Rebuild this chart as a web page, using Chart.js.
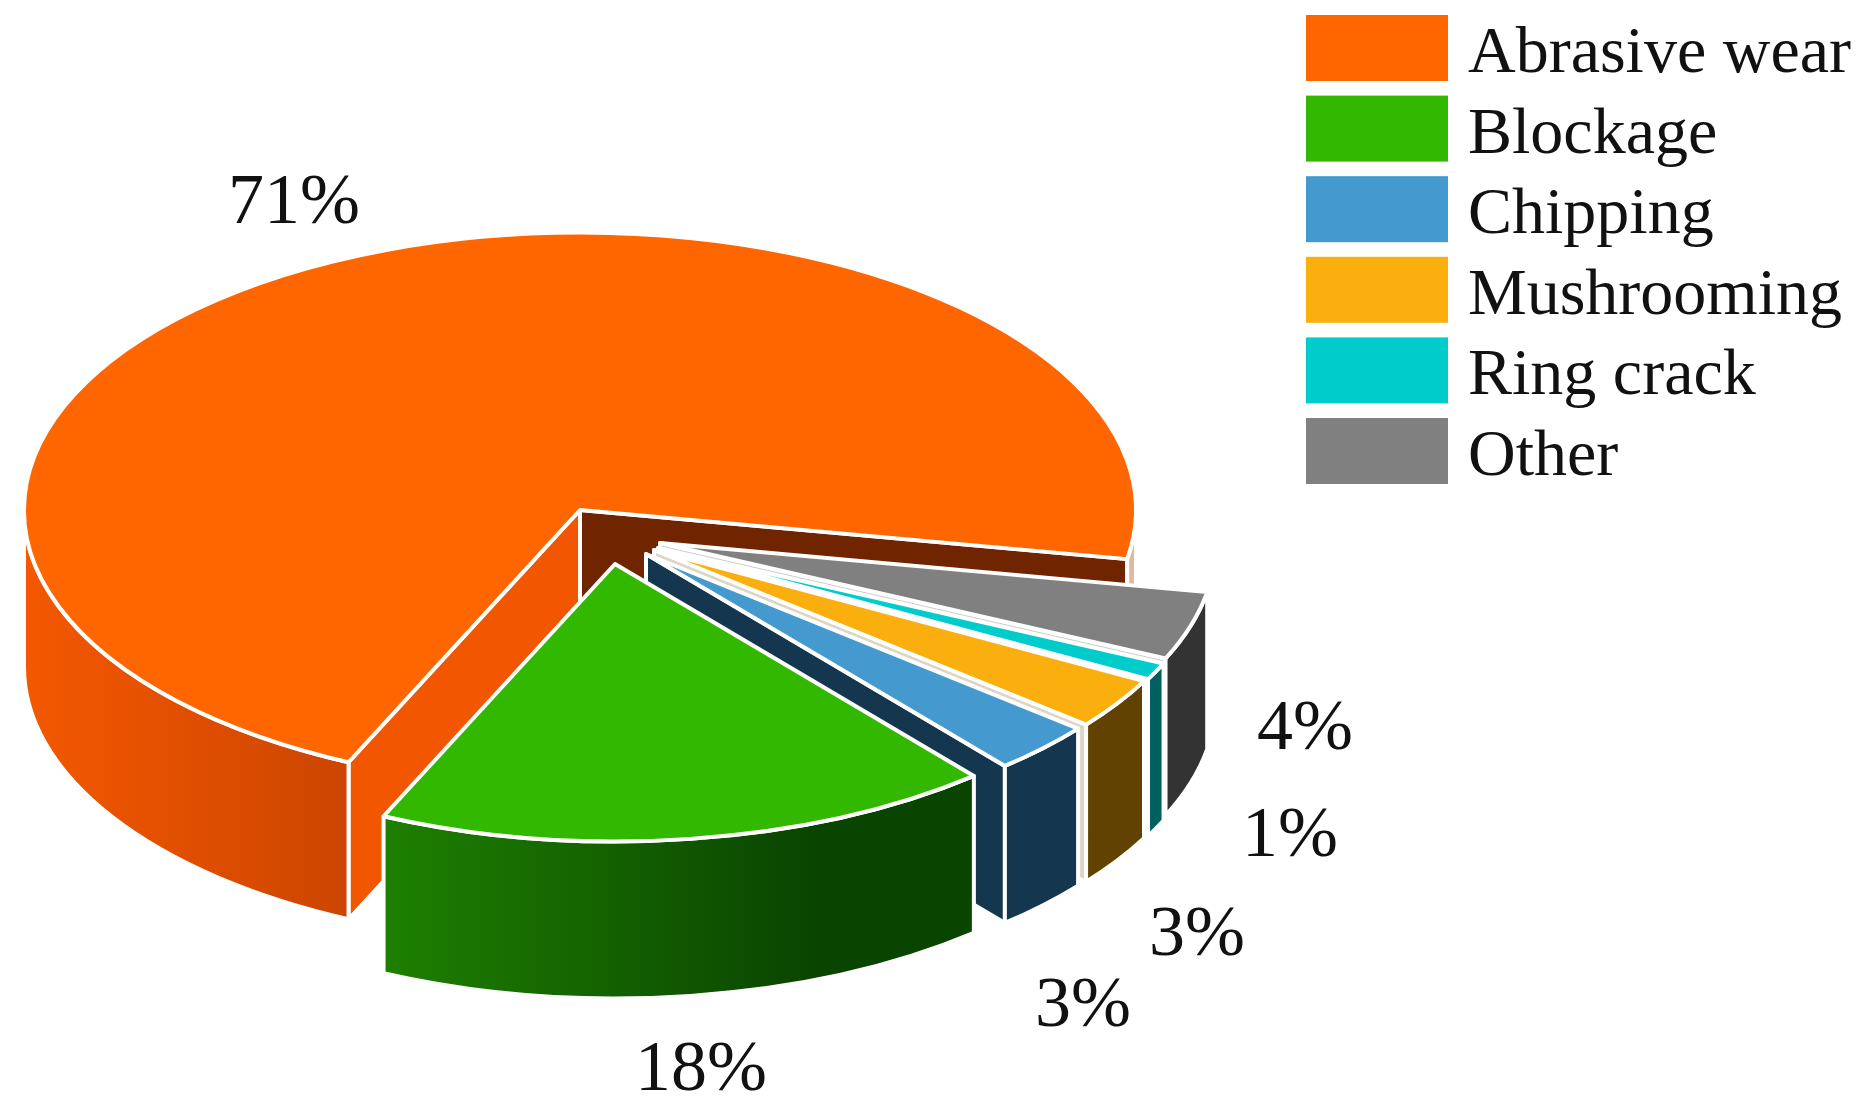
<!DOCTYPE html>
<html>
<head>
<meta charset="utf-8">
<title>Failure modes</title>
<script src="https://cdn.jsdelivr.net/npm/chart.js@4"></script>
<style>
  html, body { margin: 0; padding: 0; background: #fff; }
  canvas { display: block; }
</style>
</head>
<body>
<canvas id="failures" width="1866" height="1106"></canvas>
<script>
// data, in legend order
const categories = ['Abrasive wear', 'Blockage', 'Chipping', 'Mushrooming', 'Ring crack', 'Other'];
const shares = [71, 18, 3, 3, 1, 4];

// colours, same order
const topColors = ['#FF6600', '#33B800', '#4499CF', '#FAAF0F', '#00CCCC', '#808080'];
const wallLeft = ['#F45800', '#1E8000', '#14374F', '#624200', '#005F5F', '#333333'];
const wallRight = ['#CC4500', '#0A4500', '#14374F', '#624200', '#005F5F', '#333333'];
const startFace = ['#F25700', '#1E8000', '#14374F', '#624200', '#005F5F', '#333333'];
// the thin faces between the small slices wash out to pale strips in the picture
const endFace = ['#702400', '#0A4500', '#14374F', '#DDD5C8', '#BFDCDC', '#D0D0D0'];
const SLIVER = '#DDB9A4';

// how far each slice is pulled out of the pie, in page pixels
const explodeX = [0, 35, 66, 74, 78, 80];
const explodeY = [0, 54, 44, 40, 38, 33];

// where the percentage labels sit
const labelX = [294, 701, 1083, 1197, 1290, 1305];
const labelY = [204, 1071, 1007, 936, 837, 730];

const PIE_X = 580, PIE_Y = 510, RADIUS = 556, SQUASH = 0.499, DEPTH = 157, EDGE = 4;
const LEGEND_X = 1306, LEGEND_Y = 15, BOX_W = 142, BOX_H = 66, ROW = 80.6, TEXT_X = 1468, BASELINE = 72;

// the library lays slices out clockwise, the picture runs the other way
const order = categories.map((c, i) => i).reverse();

function wallFill(ctx, i, x0, x1) {
    const g = ctx.createLinearGradient(x0, 0, x1, 0);
    g.addColorStop(0, wallLeft[i]);
    g.addColorStop(i === 1 ? 0.72 : 1, wallRight[i]);
    g.addColorStop(1, wallRight[i]);
    return g;
}

function paint(ctx, fill) {
    ctx.fillStyle = fill;
    ctx.fill();
    ctx.strokeStyle = '#fff';
    ctx.lineWidth = EDGE;
    ctx.lineJoin = 'round';
    ctx.stroke();
}

function radialFace(ctx, cx, cy, a, fill) {
    const px = cx + RADIUS * Math.cos(a), py = cy + RADIUS * SQUASH * Math.sin(a);
    ctx.beginPath();
    ctx.moveTo(cx, cy);
    ctx.lineTo(px, py);
    ctx.lineTo(px, py + DEPTH);
    ctx.lineTo(cx, cy + DEPTH);
    ctx.closePath();
    paint(ctx, fill);
}

function drawSlice(ctx, arc, i) {
    const cx = PIE_X + explodeX[i], cy = PIE_Y + explodeY[i];
    const a0 = arc.startAngle, a1 = arc.endAngle;
    const ry = RADIUS * SQUASH;

    if (Math.cos(a0) < 0) radialFace(ctx, cx, cy, a0, startFace[i]);
    if (Math.cos(a1) > 0) radialFace(ctx, cx, cy, a1, endFace[i]);

    // outer wall, only the part facing the viewer
    [-2, 0, 2].forEach((k) => {
        const from = Math.max(a0, k * Math.PI), to = Math.min(a1, (k + 1) * Math.PI);
        if (to <= from) return;
        const xa = cx + RADIUS * Math.cos(from), xb = cx + RADIUS * Math.cos(to);
        ctx.beginPath();
        ctx.ellipse(cx, cy, RADIUS, ry, 0, from, to);
        ctx.ellipse(cx, cy + DEPTH, RADIUS, ry, 0, to, from, true);
        ctx.closePath();
        // the big slice wraps past 360 degrees and leaves a hairline wall on the far right
        paint(ctx, k === 2 ? SLIVER : wallFill(ctx, i, Math.min(xa, xb), Math.max(xa, xb)));
    });

    // top face is the library's own arc, squashed onto the page
    ctx.save();
    ctx.translate(cx, cy);
    ctx.scale(1, SQUASH);
    ctx.translate(-arc.x, -arc.y);
    arc.draw(ctx);
    ctx.restore();

    ctx.beginPath();
    ctx.moveTo(cx, cy);
    ctx.ellipse(cx, cy, RADIUS, ry, 0, a0, a1);
    ctx.closePath();
    ctx.strokeStyle = '#fff';
    ctx.lineWidth = EDGE;
    ctx.lineJoin = 'round';
    ctx.stroke();
}

const pie3d = {
    id: 'pie3d',
    beforeDatasetDraw(chart, args) {
        const ctx = chart.ctx;
        const arcs = args.meta.data;
        // back to front: the big slice first, then from the far side round to the front
        drawSlice(ctx, arcs[order.indexOf(0)], 0);
        order.forEach((src, k) => {
            if (src !== 0) drawSlice(ctx, arcs[k], src);
        });
        return false;
    },
    afterDraw(chart) {
        const ctx = chart.ctx;
        ctx.save();
        ctx.fillStyle = '#111';
        ctx.font = '72px "Liberation Serif"';
        ctx.textAlign = 'center';
        ctx.textBaseline = 'middle';
        shares.forEach((v, i) => ctx.fillText(v + '%', labelX[i], labelY[i]));

        // legend: the stock one centres text on the box, here the text sits lower
        ctx.font = '66px "Liberation Serif"';
        ctx.textAlign = 'left';
        ctx.textBaseline = 'alphabetic';
        categories.forEach((c, i) => {
            ctx.fillStyle = topColors[i];
            ctx.fillRect(LEGEND_X, LEGEND_Y + ROW * i, BOX_W, BOX_H);
            ctx.fillStyle = '#111';
            ctx.fillText(c, TEXT_X, BASELINE + ROW * i);
        });
        ctx.restore();
    }
};

new Chart(document.getElementById('failures'), {
    type: 'pie',
    plugins: [pie3d],
    data: {
        labels: order.map((i) => categories[i]),
        datasets: [{
            data: order.map((i) => shares[i]),
            backgroundColor: order.map((i) => topColors[i]),
            borderWidth: 0,
            radius: RADIUS,
            clip: false
        }]
    },
    options: {
        responsive: false,
        animation: false,
        devicePixelRatio: 1,
        rotation: 100.2,
        plugins: {
            tooltip: { enabled: false },
            legend: { display: false }
        }
    }
});
</script>
</body>
</html>
